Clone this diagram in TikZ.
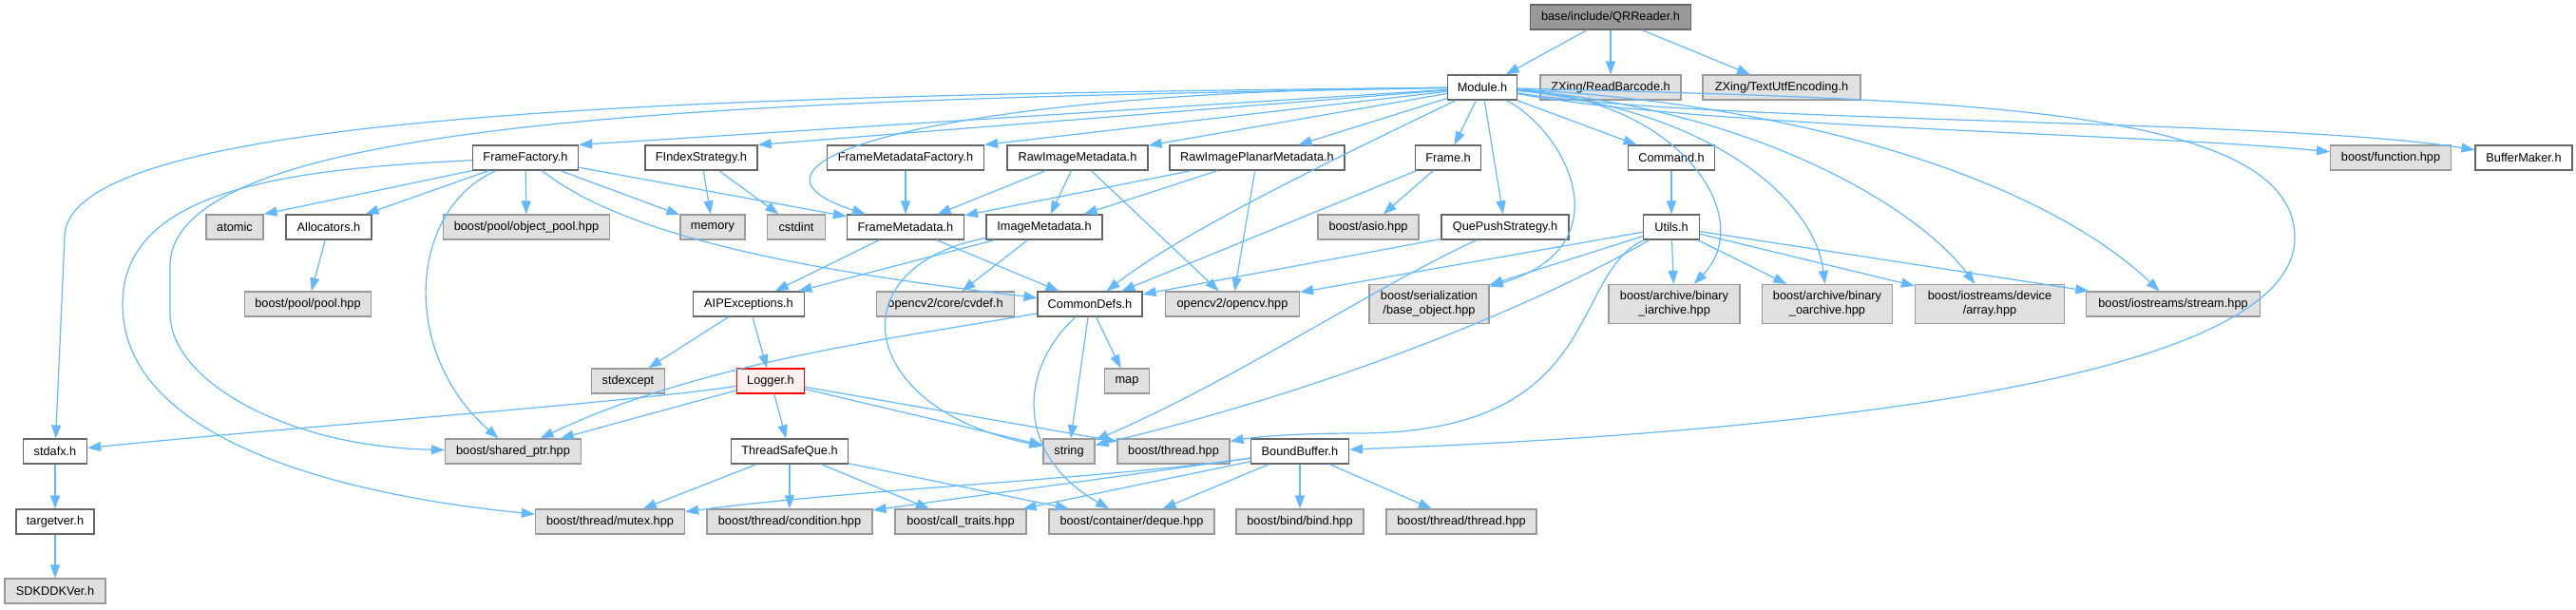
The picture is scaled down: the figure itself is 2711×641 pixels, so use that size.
\documentclass[tikz,border=0pt]{standalone}
\usepackage{fontspec}
\setmainfont{Liberation Sans}
\usetikzlibrary{arrows.meta}
\definecolor{edgeblue}{HTML}{63B8FF}
\definecolor{sysfill}{HTML}{E0E0E0}
\definecolor{sysline}{HTML}{999999}
\definecolor{hdrline}{HTML}{666666}
\definecolor{rootfill}{HTML}{999999}
\definecolor{hilitefill}{HTML}{FFF0F0}

\tikzset{
  box/.style={rectangle, inner sep=0pt, minimum height=26pt, line width=1.2pt,
    font=\fontsize{12.75}{15}\selectfont, align=center},
  hdr/.style={box, draw=hdrline, fill=white},
  sys/.style={box, draw=sysline, fill=sysfill},
  root/.style={box, draw=hdrline, fill=rootfill},
  hilite/.style={box, draw=red, fill=hilitefill},
  dep/.style={draw=edgeblue, line width=1.2pt, -{Triangle[length=14pt,width=10pt]}},
}

\begin{document}
\begin{tikzpicture}[x=1pt,y=-1pt]
  \useasboundingbox (0,0) rectangle (2711,641);
  % top
  \node[root, minimum width=169] (qr) at (1695,18) {base/include/QRReader.h};
  \node[hdr, minimum width=73] (mod) at (1560,92) {Module.h};
  \node[sys, minimum width=148] (zrb) at (1695,92) {ZXing/ReadBarcode.h};
  \node[sys, minimum width=166] (zte) at (1875,92) {ZXing/TextUtfEncoding.h};
  % headers of Module.h
  \node[hdr, minimum width=111] (ff) at (553,166) {FrameFactory.h};
  \node[hdr, minimum width=118] (fis) at (738,166) {FIndexStrategy.h};
  \node[hdr, minimum width=165] (fmf) at (953,166) {FrameMetadataFactory.h};
  \node[hdr, minimum width=148] (rim) at (1134,166) {RawImageMetadata.h};
  \node[hdr, minimum width=184] (ripm) at (1323,166) {RawImagePlanarMetadata.h};
  \node[hdr, minimum width=69] (frame) at (1524,166) {Frame.h};
  \node[hdr, minimum width=91] (cmd) at (1759,166) {Command.h};
  \node[sys, minimum width=127] (bfun) at (2516,166) {boost/function.hpp};
  \node[hdr, minimum width=102] (bmk) at (2656,166) {BufferMaker.h};
  % next row
  \node[sys, minimum width=60] (atomic) at (247,239) {atomic};
  \node[hdr, minimum width=90] (alloc) at (346,239) {Allocators.h};
  \node[sys, minimum width=175] (bop) at (554,239) {boost/pool/object\_pool.hpp};
  \node[sys, minimum width=68] (memory) at (750,239) {memory};
  \node[sys, minimum width=61] (cstdint) at (838,239) {cstdint};
  \node[hdr, minimum width=123] (fmd) at (953,239) {FrameMetadata.h};
  \node[hdr, minimum width=122] (imd) at (1099,239) {ImageMetadata.h};
  \node[sys, minimum width=106] (asio) at (1440,239) {boost/asio.hpp};
  \node[hdr, minimum width=134] (qps) at (1584,239) {QuePushStrategy.h};
  \node[hdr, minimum width=59] (utils) at (1759,239) {Utils.h};
  % row of CommonDefs.h
  \node[sys, minimum width=133] (pool) at (324,320) {boost/pool/pool.hpp};
  \node[hdr, minimum width=117] (aip) at (788,320) {AIPExceptions.h};
  \node[sys, minimum width=145] (cvdef) at (995,320) {opencv2/core/cvdef.h};
  \node[hdr, minimum width=110] (cdefs) at (1147,320) {CommonDefs.h};
  \node[sys, minimum width=141] (ocv) at (1297,320) {opencv2/opencv.hpp};
  \node[sys, minimum width=126, minimum height=41] (ser) at (1504,320) {boost/serialization\\/base\_object.hpp};
  \node[sys, minimum width=138, minimum height=41] (bia) at (1762,320) {boost/archive/binary\\\_iarchive.hpp};
  \node[sys, minimum width=137, minimum height=41] (boa) at (1923,320) {boost/archive/binary\\\_oarchive.hpp};
  \node[sys, minimum width=157, minimum height=41] (arr) at (2094,320) {boost/iostreams/device\\/array.hpp};
  \node[sys, minimum width=183] (strm) at (2287,320) {boost/iostreams/stream.hpp};
  % Logger.h row
  \node[sys, minimum width=77] (stdexc) at (661,401) {stdexcept};
  \node[hilite, minimum width=71] (logger) at (811,401) {Logger.h};
  \node[sys, minimum width=47] (map) at (1186,401) {map};
  % lower rows
  \node[hdr, minimum width=67] (stdafx) at (58,475) {stdafx.h};
  \node[sys, minimum width=143] (bsp) at (540,475) {boost/shared\_ptr.hpp};
  \node[hdr, minimum width=123] (tsq) at (831,475) {ThreadSafeQue.h};
  \node[sys, minimum width=54] (string) at (1125,475) {string};
  \node[sys, minimum width=118] (bth) at (1235,475) {boost/thread.hpp};
  \node[hdr, minimum width=103] (bbuf) at (1368,475) {BoundBuffer.h};
  \node[hdr, minimum width=82] (targetver) at (58,549) {targetver.h};
  \node[sys, minimum width=157] (mutex) at (642,549) {boost/thread/mutex.hpp};
  \node[sys, minimum width=174] (cond) at (831,549) {boost/thread/condition.hpp};
  \node[sys, minimum width=138] (ctr) at (1011,549) {boost/call\_traits.hpp};
  \node[sys, minimum width=174] (deque) at (1191,549) {boost/container/deque.hpp};
  \node[sys, minimum width=134] (bind) at (1368,549) {boost/bind/bind.hpp};
  \node[sys, minimum width=158] (bthth) at (1538,549) {boost/thread/thread.hpp};
  \node[sys, minimum width=106] (sdk) at (58,622) {SDKDDKVer.h};

  % straight includes
  \foreach \a/\b in {qr/mod, qr/zrb, qr/zte, mod/rim, mod/ripm, mod/frame, mod/qps, mod/cmd,
      ff/alloc, ff/bop, ff/memory, ff/fmd, alloc/pool, fis/memory, fis/cstdint, fmf/fmd,
      rim/fmd, rim/imd, rim/ocv, ripm/fmd, ripm/imd, ripm/ocv, fmd/aip, fmd/cdefs,
      imd/aip, imd/cvdef, frame/asio, frame/cdefs, qps/cdefs, cmd/utils,
      utils/ocv, utils/ser, utils/bia, utils/boa, utils/arr, utils/strm,
      cdefs/string, cdefs/map, aip/stdexc, aip/logger, logger/bsp, logger/string,
      logger/bth, logger/tsq, stdafx/targetver, targetver/sdk,
      tsq/mutex, tsq/cond, tsq/ctr, tsq/deque,
      bbuf/cond, bbuf/ctr, bbuf/deque, bbuf/bind, bbuf/bthth}
    \draw[dep] (\a) -- (\b);
  \draw[dep] (mod) -- (ff.north east);
  \draw[dep] (mod) -- (fis.north east);
  \draw[dep] (mod) -- (fmf.north east);
  \draw[dep] (ff.south west) -- (atomic.north east);

  % curved includes
  \draw[dep] (mod) .. controls (700,100) and (68,120) .. (68,250) -- (stdafx);
  \draw[dep] (mod) .. controls (800,105) and (179,120) .. (179,280) -- (179,330)
    .. controls (179,400) and (300,470) .. (bsp);
  \draw[dep] (mod) .. controls (1000,95) and (740,170) .. (fmd);
  \draw[dep] (mod) .. controls (1420,160) and (1250,240) .. (cdefs);
  \draw[dep] (mod) .. controls (1650,140) and (1710,260) .. (ser);
  \draw[dep] (mod) .. controls (1770,105) and (1850,230) .. (bia);
  \draw[dep] (mod) .. controls (1800,115) and (1910,210) .. (boa);
  \draw[dep] (mod) .. controls (1850,115) and (2020,220) .. (arr);
  \draw[dep] (mod) .. controls (1900,110) and (2150,190) .. (strm);
  \draw[dep] (mod) .. controls (1800,135) and (2250,140) .. (bfun);
  \draw[dep] (mod) .. controls (1800,130) and (2400,125) .. (bmk);
  \draw[dep] (mod) .. controls (2050,105) and (2415,110) .. (2415,250)
    .. controls (2415,400) and (1900,455) .. (bbuf);
  \draw[dep] (ff) .. controls (660,250) and (850,285) .. (cdefs);
  \draw[dep] (ff) .. controls (430,220) and (420,370) .. (bsp);
  \draw[dep] (ff) .. controls (300,178) and (129,200) .. (129,320)
    .. controls (129,460) and (350,520) .. (mutex);
  \draw[dep] (imd) .. controls (880,280) and (900,430) .. (string);
  \draw[dep] (qps) .. controls (1450,300) and (1300,400) .. (string);
  \draw[dep] (utils) .. controls (1620,320) and (1400,410) .. (string);
  \draw[dep] (utils) .. controls (1650,290) and (1690,455) .. (1430,456)
    .. controls (1360,456) and (1320,460) .. (bth);
  \draw[dep] (cdefs) .. controls (950,355) and (740,380) .. (bsp);
  \draw[dep] (cdefs) .. controls (1070,390) and (1070,480) .. (deque);
  \draw[dep] (logger) .. controls (650,425) and (300,450) .. (stdafx);
  \draw[dep] (bbuf) .. controls (1150,505) and (900,515) .. (mutex);
\end{tikzpicture}
\end{document}
